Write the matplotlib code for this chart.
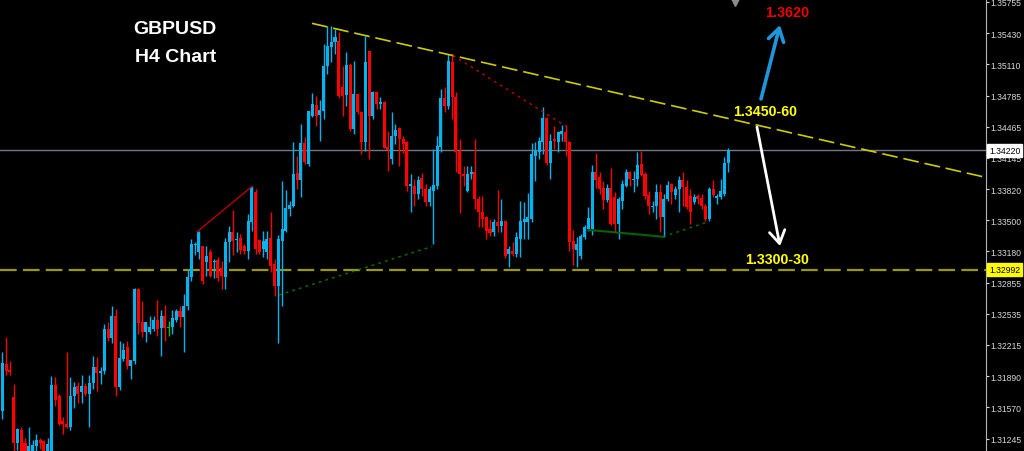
import matplotlib.pyplot as plt
from matplotlib.transforms import blended_transform_factory

# GBPUSD H4 candles
opens = [
    1.3153, 1.3202, 1.3196, 1.3168, 1.3120, 1.3134, 1.3120, 1.3109, 1.3112, 1.3117,
    1.3123, 1.3122, 1.3109, 1.3109, 1.3180, 1.3169, 1.3143, 1.3140, 1.3137, 1.3169,
    1.3179, 1.3173, 1.3179, 1.3171, 1.3182, 1.3199, 1.3193, 1.3195, 1.3238, 1.3229,
    1.3251, 1.3178, 1.3207, 1.3219, 1.3200, 1.3205, 1.3279, 1.3245, 1.3235, 1.3235,
    1.3238, 1.3247, 1.3239, 1.3251, 1.3239, 1.3240, 1.3247, 1.3256, 1.3250, 1.3262,
    1.3291, 1.3324, 1.3317, 1.3323, 1.3307, 1.3317, 1.3307, 1.3309, 1.3301, 1.3291,
    1.3328, 1.3338, 1.3330, 1.3332, 1.3323, 1.3318, 1.3348, 1.3379, 1.3330, 1.3320,
    1.3317, 1.3332, 1.3305, 1.3282, 1.3329, 1.3339, 1.3362, 1.3365, 1.3399, 1.3392,
    1.3430, 1.3408, 1.3457, 1.3469, 1.3459, 1.3463, 1.3509, 1.3529, 1.3534, 1.3535,
    1.3487, 1.3479, 1.3510, 1.3444, 1.3480, 1.3462, 1.3431, 1.3524, 1.3457, 1.3482,
    1.3470, 1.3472, 1.3426, 1.3413, 1.3437, 1.3445, 1.3434, 1.3431, 1.3385, 1.3385,
    1.3377, 1.3394, 1.3382, 1.3369, 1.3380, 1.3385, 1.3426, 1.3476, 1.3468, 1.3513,
    1.3477, 1.3421, 1.3398, 1.3380, 1.3398, 1.3400, 1.3372, 1.3359, 1.3353, 1.3341,
    1.3338, 1.3348, 1.3344, 1.3349, 1.3315, 1.3318, 1.3315, 1.3331, 1.3348, 1.3348,
    1.3351, 1.3416, 1.3420, 1.3431, 1.3455, 1.3409, 1.3434, 1.3431, 1.3439, 1.3441,
    1.3431, 1.3329, 1.3319, 1.3313, 1.3333, 1.3341, 1.3341, 1.3400, 1.3395, 1.3383,
    1.3371, 1.3383, 1.3374, 1.3346, 1.3370, 1.3385, 1.3400, 1.3392, 1.3393, 1.3408,
    1.3398, 1.3376, 1.3364, 1.3365, 1.3379, 1.3353, 1.3372, 1.3387, 1.3376, 1.3382,
    1.3391, 1.3384, 1.3375, 1.3369, 1.3375, 1.3373, 1.3365, 1.3351, 1.3382, 1.3373,
    1.3374, 1.3377, 1.3409]
highs = [
    1.3214, 1.3230, 1.3205, 1.3181, 1.3136, 1.3137, 1.3125, 1.3137, 1.3123, 1.3130,
    1.3125, 1.3123, 1.3125, 1.3189, 1.3188, 1.3171, 1.3147, 1.3214, 1.3188, 1.3183,
    1.3183, 1.3190, 1.3182, 1.3190, 1.3210, 1.3209, 1.3199, 1.3243, 1.3245, 1.3262,
    1.3259, 1.3225, 1.3223, 1.3225, 1.3206, 1.3280, 1.3280, 1.3267, 1.3245, 1.3251,
    1.3251, 1.3268, 1.3257, 1.3263, 1.3246, 1.3257, 1.3259, 1.3262, 1.3274, 1.3300,
    1.3331, 1.3328, 1.3339, 1.3323, 1.3323, 1.3320, 1.3310, 1.3312, 1.3308, 1.3332,
    1.3344, 1.3361, 1.3338, 1.3336, 1.3325, 1.3356, 1.3385, 1.3382, 1.3331, 1.3339,
    1.3339, 1.3359, 1.3310, 1.3335, 1.3390, 1.3381, 1.3370, 1.3431, 1.3416, 1.3449,
    1.3436, 1.3463, 1.3481, 1.3478, 1.3474, 1.3532, 1.3550, 1.3550, 1.3547, 1.3544,
    1.3509, 1.3523, 1.3512, 1.3514, 1.3481, 1.3463, 1.3540, 1.3525, 1.3483, 1.3483,
    1.3477, 1.3473, 1.3442, 1.3462, 1.3449, 1.3446, 1.3437, 1.3432, 1.3398, 1.3393,
    1.3396, 1.3399, 1.3387, 1.3385, 1.3423, 1.3437, 1.3485, 1.3487, 1.3521, 1.3521,
    1.3482, 1.3434, 1.3406, 1.3406, 1.3406, 1.3434, 1.3375, 1.3375, 1.3354, 1.3351,
    1.3351, 1.3381, 1.3372, 1.3350, 1.3323, 1.3328, 1.3338, 1.3370, 1.3369, 1.3378,
    1.3430, 1.3431, 1.3436, 1.3467, 1.3456, 1.3439, 1.3447, 1.3442, 1.3448, 1.3448,
    1.3432, 1.3340, 1.3333, 1.3336, 1.3345, 1.3364, 1.3407, 1.3419, 1.3400, 1.3390,
    1.3387, 1.3404, 1.3379, 1.3374, 1.3391, 1.3403, 1.3401, 1.3401, 1.3420, 1.3421,
    1.3400, 1.3380, 1.3370, 1.3387, 1.3387, 1.3377, 1.3390, 1.3388, 1.3385, 1.3396,
    1.3400, 1.3391, 1.3382, 1.3377, 1.3377, 1.3377, 1.3367, 1.3384, 1.3391, 1.3377,
    1.3393, 1.3415, 1.3425]
lows = [
    1.3145, 1.3190, 1.3190, 1.3112, 1.3113, 1.3104, 1.3102, 1.3106, 1.3108, 1.3112,
    1.3114, 1.3106, 1.3106, 1.3106, 1.3159, 1.3139, 1.3130, 1.3136, 1.3134, 1.3156,
    1.3162, 1.3162, 1.3169, 1.3137, 1.3176, 1.3174, 1.3181, 1.3191, 1.3225, 1.3223,
    1.3169, 1.3175, 1.3205, 1.3197, 1.3186, 1.3202, 1.3233, 1.3230, 1.3224, 1.3233,
    1.3236, 1.3231, 1.3210, 1.3225, 1.3231, 1.3233, 1.3245, 1.3240, 1.3214, 1.3257,
    1.3287, 1.3314, 1.3310, 1.3284, 1.3293, 1.3291, 1.3290, 1.3287, 1.3279, 1.3279,
    1.3307, 1.3314, 1.3317, 1.3315, 1.3315, 1.3310, 1.3339, 1.3315, 1.3315, 1.3312,
    1.3310, 1.3297, 1.3272, 1.3223, 1.3262, 1.3338, 1.3354, 1.3364, 1.3382, 1.3374,
    1.3408, 1.3406, 1.3456, 1.3447, 1.3432, 1.3454, 1.3501, 1.3513, 1.3521, 1.3476,
    1.3457, 1.3468, 1.3442, 1.3439, 1.3460, 1.3418, 1.3421, 1.3413, 1.3454, 1.3465,
    1.3465, 1.3424, 1.3401, 1.3408, 1.3429, 1.3406, 1.3419, 1.3380, 1.3359, 1.3365,
    1.3372, 1.3375, 1.3365, 1.3365, 1.3326, 1.3382, 1.3420, 1.3462, 1.3465, 1.3454,
    1.3400, 1.3357, 1.3385, 1.3379, 1.3393, 1.3362, 1.3343, 1.3343, 1.3331, 1.3334,
    1.3334, 1.3338, 1.3338, 1.3311, 1.3302, 1.3313, 1.3312, 1.3312, 1.3331, 1.3331,
    1.3348, 1.3390, 1.3413, 1.3418, 1.3407, 1.3393, 1.3423, 1.3420, 1.3432, 1.3416,
    1.3318, 1.3304, 1.3302, 1.3310, 1.3331, 1.3339, 1.3335, 1.3383, 1.3377, 1.3362,
    1.3369, 1.3345, 1.3338, 1.3331, 1.3362, 1.3384, 1.3385, 1.3379, 1.3385, 1.3396,
    1.3372, 1.3356, 1.3359, 1.3351, 1.3338, 1.3333, 1.3370, 1.3367, 1.3372, 1.3359,
    1.3365, 1.3362, 1.3346, 1.3367, 1.3367, 1.3362, 1.3349, 1.3349, 1.3374, 1.3367,
    1.3372, 1.3375, 1.3400]
closes = [
    1.3203, 1.3195, 1.3194, 1.3120, 1.3135, 1.3108, 1.3106, 1.3117, 1.3118, 1.3123,
    1.3120, 1.3111, 1.3119, 1.3180, 1.3165, 1.3140, 1.3140, 1.3137, 1.3169, 1.3178,
    1.3171, 1.3179, 1.3171, 1.3182, 1.3199, 1.3193, 1.3195, 1.3238, 1.3229, 1.3251,
    1.3178, 1.3208, 1.3216, 1.3200, 1.3206, 1.3279, 1.3244, 1.3235, 1.3245, 1.3240,
    1.3247, 1.3238, 1.3251, 1.3239, 1.3239, 1.3249, 1.3256, 1.3250, 1.3262, 1.3291,
    1.3326, 1.3326, 1.3338, 1.3287, 1.3313, 1.3293, 1.3308, 1.3290, 1.3293, 1.3328,
    1.3338, 1.3329, 1.3331, 1.3319, 1.3318, 1.3349, 1.3384, 1.3320, 1.3317, 1.3329,
    1.3331, 1.3303, 1.3282, 1.3331, 1.3341, 1.3363, 1.3366, 1.3398, 1.3392, 1.3430,
    1.3410, 1.3463, 1.3470, 1.3457, 1.3464, 1.3509, 1.3530, 1.3534, 1.3539, 1.3478,
    1.3478, 1.3510, 1.3444, 1.3480, 1.3462, 1.3431, 1.3513, 1.3457, 1.3482, 1.3470,
    1.3472, 1.3425, 1.3422, 1.3437, 1.3443, 1.3434, 1.3429, 1.3385, 1.3387, 1.3377,
    1.3391, 1.3382, 1.3369, 1.3382, 1.3386, 1.3427, 1.3476, 1.3468, 1.3514, 1.3477,
    1.3420, 1.3398, 1.3396, 1.3398, 1.3400, 1.3372, 1.3359, 1.3351, 1.3339, 1.3337,
    1.3348, 1.3344, 1.3349, 1.3313, 1.3320, 1.3315, 1.3333, 1.3349, 1.3351, 1.3353,
    1.3418, 1.3421, 1.3432, 1.3455, 1.3409, 1.3432, 1.3432, 1.3441, 1.3442, 1.3431,
    1.3328, 1.3320, 1.3325, 1.3334, 1.3343, 1.3352, 1.3400, 1.3392, 1.3382, 1.3371,
    1.3383, 1.3346, 1.3346, 1.3372, 1.3387, 1.3400, 1.3393, 1.3393, 1.3407, 1.3397,
    1.3375, 1.3365, 1.3365, 1.3379, 1.3353, 1.3372, 1.3386, 1.3379, 1.3382, 1.3391,
    1.3384, 1.3364, 1.3359, 1.3374, 1.3372, 1.3365, 1.3351, 1.3382, 1.3376, 1.3375,
    1.3380, 1.3409, 1.3422]

price_ticks = [1.35755, 1.35430, 1.35110, 1.34785, 1.34465, 1.34145, 1.33820,
               1.33500, 1.33180, 1.32855, 1.32535, 1.32215, 1.31890, 1.31570, 1.31245]
bid_price = 1.34220
support_price = 1.32992

# drawn objects: (bar index, price) anchors
main_trend = ([81.9, 191.9], [1.3553, 1.3455])
red_line = ([51.5, 66.1], [1.3338, 1.3385])
red_dots = ([119.2, 149.1], [1.3520, 1.3447])
green_dots_1 = ([73.2, 113.7], [1.3273, 1.3323])
green_line = ([155.2, 174.8], [1.3340, 1.3333])
green_dots_2 = ([174.8, 186.4], [1.3333, 1.3348])

bull_col = '#00b4f0'
bear_col = '#ff0000'
doji_col = '#00c800'

fig = plt.figure(figsize=(10.24, 4.52), dpi=100, facecolor='black')
ax = fig.add_axes([0, 0, 986 / 1024, 1], facecolor='black')

n = len(closes)
idx = list(range(n))
cols, bottoms, heights = [], [], []
for o, c in zip(opens, closes):
    if c > o:
        cols.append(bull_col)
    elif c < o:
        cols.append(bear_col)
    else:
        cols.append(doji_col)
    bottoms.append(min(o, c))
    heights.append(max(abs(c - o), 0.00009))

ax.vlines(idx, lows, highs, colors=cols, linewidth=1.0, zorder=3)
ax.bar(idx, heights, bottom=bottoms, width=0.8, color=cols, linewidth=0, zorder=4)

xmin, xmax = -0.61, 260.2
ax.set_xlim(xmin, xmax)
ax.set_ylim(1.31121, 1.35781)

# price lines
ax.axhline(bid_price, color='#6e7a86', lw=1.0, zorder=2)
ax.axhline(support_price, color='#9a9a00', lw=1.6, dashes=(7.5, 2.8), zorder=2)

# main trendline as a ray to the right
x0, x1 = main_trend[0]
y0, y1 = main_trend[1]
slope = (y1 - y0) / (x1 - x0)
ax.plot([x0, xmax + 2], [y0, y0 + slope * (xmax + 2 - x0)], color='#cccc00', lw=1.2,
        dashes=(9.5, 3.5), zorder=5)

ax.plot(*red_line, color='#b80000', lw=1.0, zorder=5)
ax.plot(*red_dots, color='#c00000', lw=1.0, dashes=(2, 3), zorder=5)
ax.plot(*green_dots_1, color='#007800', lw=1.0, dashes=(2, 3), zorder=5)
ax.plot(*green_line, color='#006400', lw=1.5, zorder=5)
ax.plot(*green_dots_2, color='#007800', lw=1.0, dashes=(2, 3), zorder=5)

# shift marker at the top
tr = blended_transform_factory(ax.transData, ax.transAxes)
ax.plot([193.8], [1 - 3 / 452], marker='v', color='#8c8c8c', markersize=6,
        transform=tr, clip_on=False, zorder=6)

# right price axis
ax.yaxis.tick_right()
ax.set_yticks(price_ticks)
ax.set_yticklabels([f'{p:.5f}' for p in price_ticks])
ax.set_xticks([])
ax.tick_params(axis='y', colors='#d8d8d8', length=2.2, width=0.8, pad=1,
               labelsize=6.2, labelfontfamily='Liberation Sans')
for s in ['left', 'top', 'bottom']:
    ax.spines[s].set_visible(False)
ax.spines['right'].set_color('#b4b4b4')
ax.spines['right'].set_linewidth(0.8)

ty = blended_transform_factory(ax.transAxes, ax.transData)
ax.text(1.003, bid_price, f'{bid_price:.5f}', transform=ty, ha='left', va='center',
        fontsize=6.2, family='Liberation Sans', color='black', zorder=10,
        bbox=dict(boxstyle='square,pad=0.2', facecolor='white', edgecolor='white'))
ax.text(1.003, support_price, f'{support_price:.5f}', transform=ty, ha='left', va='center',
        fontsize=6.2, family='Liberation Sans', color='black', zorder=10,
        bbox=dict(boxstyle='square,pad=0.2', facecolor='#ffff00', edgecolor='#ffff00'))

# titles and levels
ax.text(0.1775, 0.934, 'GBPUSD', transform=ax.transAxes, ha='center', va='center',
        color='white', fontsize=14, fontweight='bold', family='Liberation Sans')
ax.text(0.1785, 0.872, 'H4 Chart', transform=ax.transAxes, ha='center', va='center',
        color='white', fontsize=14, fontweight='bold', family='Liberation Sans')
ax.text(0.798, 0.972, '1.3620', transform=ax.transAxes, ha='center', va='center',
        color='#ee0000', fontsize=10.4, fontweight='bold', family='Liberation Sans')
ax.text(0.776, 0.752, '1.3450-60', transform=ax.transAxes, ha='center', va='center',
        color='#ffff00', fontsize=10.2, fontweight='bold', family='Liberation Sans')
ax.text(0.788, 0.425, '1.3300-30', transform=ax.transAxes, ha='center', va='center',
        color='#ffff00', fontsize=10.2, fontweight='bold', family='Liberation Sans')

ax.annotate('', xy=(0.7911, 0.9425), xytext=(0.7718, 0.7788), xycoords='axes fraction',
            arrowprops=dict(arrowstyle='->,head_length=0.45,head_width=0.28',
                            color='#1e96dc', lw=2.6, mutation_scale=20,
                            shrinkA=0, shrinkB=0))
ax.annotate('', xy=(0.7911, 0.4535), xytext=(0.7677, 0.7168), xycoords='axes fraction',
            arrowprops=dict(arrowstyle='->,head_length=0.45,head_width=0.28',
                            color='white', lw=2.0, mutation_scale=20,
                            shrinkA=0, shrinkB=0))

fig.savefig('out.png', dpi=100, facecolor='black')
